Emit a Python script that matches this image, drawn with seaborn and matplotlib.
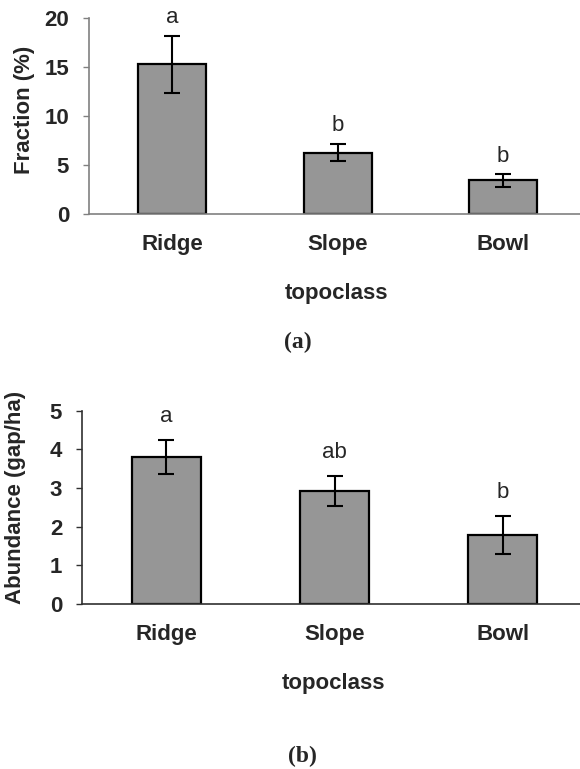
import numpy as np
import pandas as pd
import matplotlib
matplotlib.use('Agg')
import matplotlib.pyplot as plt
import seaborn as sns

sns.set_theme(style='white')
plt.rcParams['font.family'] = ['Liberation Sans', 'DejaVu Sans']

topoclass = ['Ridge', 'Slope', 'Bowl']

fraction_mean = [15.3, 6.25, 3.4]
fraction_se = [2.9, 0.9, 0.65]
fraction_letters = ['a', 'b', 'b']

abundance_mean = [3.8, 2.93, 1.79]
abundance_se = [0.45, 0.39, 0.49]
abundance_letters = ['a', 'ab', 'b']

fig = plt.figure(figsize=(5.8, 7.69), dpi=100)
ax_a = fig.add_axes([0.154, 0.7221, 0.846, 0.2541])
ax_b = fig.add_axes([0.1419, 0.2146, 0.8581, 0.2513])

panels = [
    (ax_a, fraction_mean, fraction_se, fraction_letters, 'Fraction (%)',
     (0, 20), [0, 5, 10, 15, 20], 2.464, '#808080', 9, (-0.132, 0.531), -0.437),
    (ax_b, abundance_mean, abundance_se, abundance_letters, 'Abundance (gap/ha)',
     (0, 5), [0, 1, 2, 3, 4, 5], 2.459, '#303030', 13, (-0.135, 0.55), -0.441),
]

for ax, means, se, letters, ylab, ylim, yticks, xmax, axcol, off, ylc, xly in panels:
    df = pd.DataFrame({'topoclass': topoclass, 'value': means})
    sns.barplot(data=df, x='topoclass', y='value', ax=ax, color='#969696',
                saturation=1, edgecolor='black', linewidth=1.6, width=0.41,
                errorbar=None)
    tops = np.array(means) + np.array(se)
    ax.errorbar(np.arange(3), means, yerr=se, fmt='none', ecolor='black',
                elinewidth=1.5, capsize=5.8, capthick=1.5, zorder=5)
    for i, (t, lbl) in enumerate(zip(tops, letters)):
        ax.annotate(lbl, (i, t), xytext=(0, off), textcoords='offset points',
                    ha='center', va='baseline', fontsize=16)

    ax.set_xlim(-0.5, xmax)
    ax.set_ylim(*ylim)
    ax.set_yticks(yticks)
    ax.set_yticklabels([str(v) for v in yticks], fontsize=16, fontweight='bold')
    ax.set_xticks(range(3))
    ax.set_xticklabels(topoclass, fontsize=16, fontweight='bold')
    ax.set_xticks([-0.5, 0.5, 1.5], minor=True)
    ax.tick_params(axis='x', which='major', length=0, pad=14.5)
    ax.tick_params(axis='x', which='minor', length=4.5, width=1, color=axcol,
                   direction='out')
    ax.tick_params(axis='y', length=4.5, width=1, color=axcol, direction='out',
                   pad=10, left=True)

    for s in ['top', 'right']:
        ax.spines[s].set_visible(False)
    for s in ['left', 'bottom']:
        ax.spines[s].set_color(axcol)
        ax.spines[s].set_linewidth(1.2)

    ax.set_ylabel(ylab, fontsize=16, fontweight='bold')
    ax.yaxis.set_label_coords(*ylc)
    ax.yaxis.label.set_va('center')
    ax.set_xlabel('topoclass', fontsize=16, fontweight='bold')
    ax.xaxis.set_label_coords(0.504, xly)
    ax.xaxis.label.set_va('baseline')

fig.text(0.513, 0.555, '(a)', ha='center', va='center', fontsize=17,
         fontweight='bold', family='Liberation Serif')
fig.text(0.522, 0.016, '(b)', ha='center', va='center', fontsize=17,
         fontweight='bold', family='Liberation Serif')

fig.savefig('out.png', dpi=100)
plt.close(fig)
